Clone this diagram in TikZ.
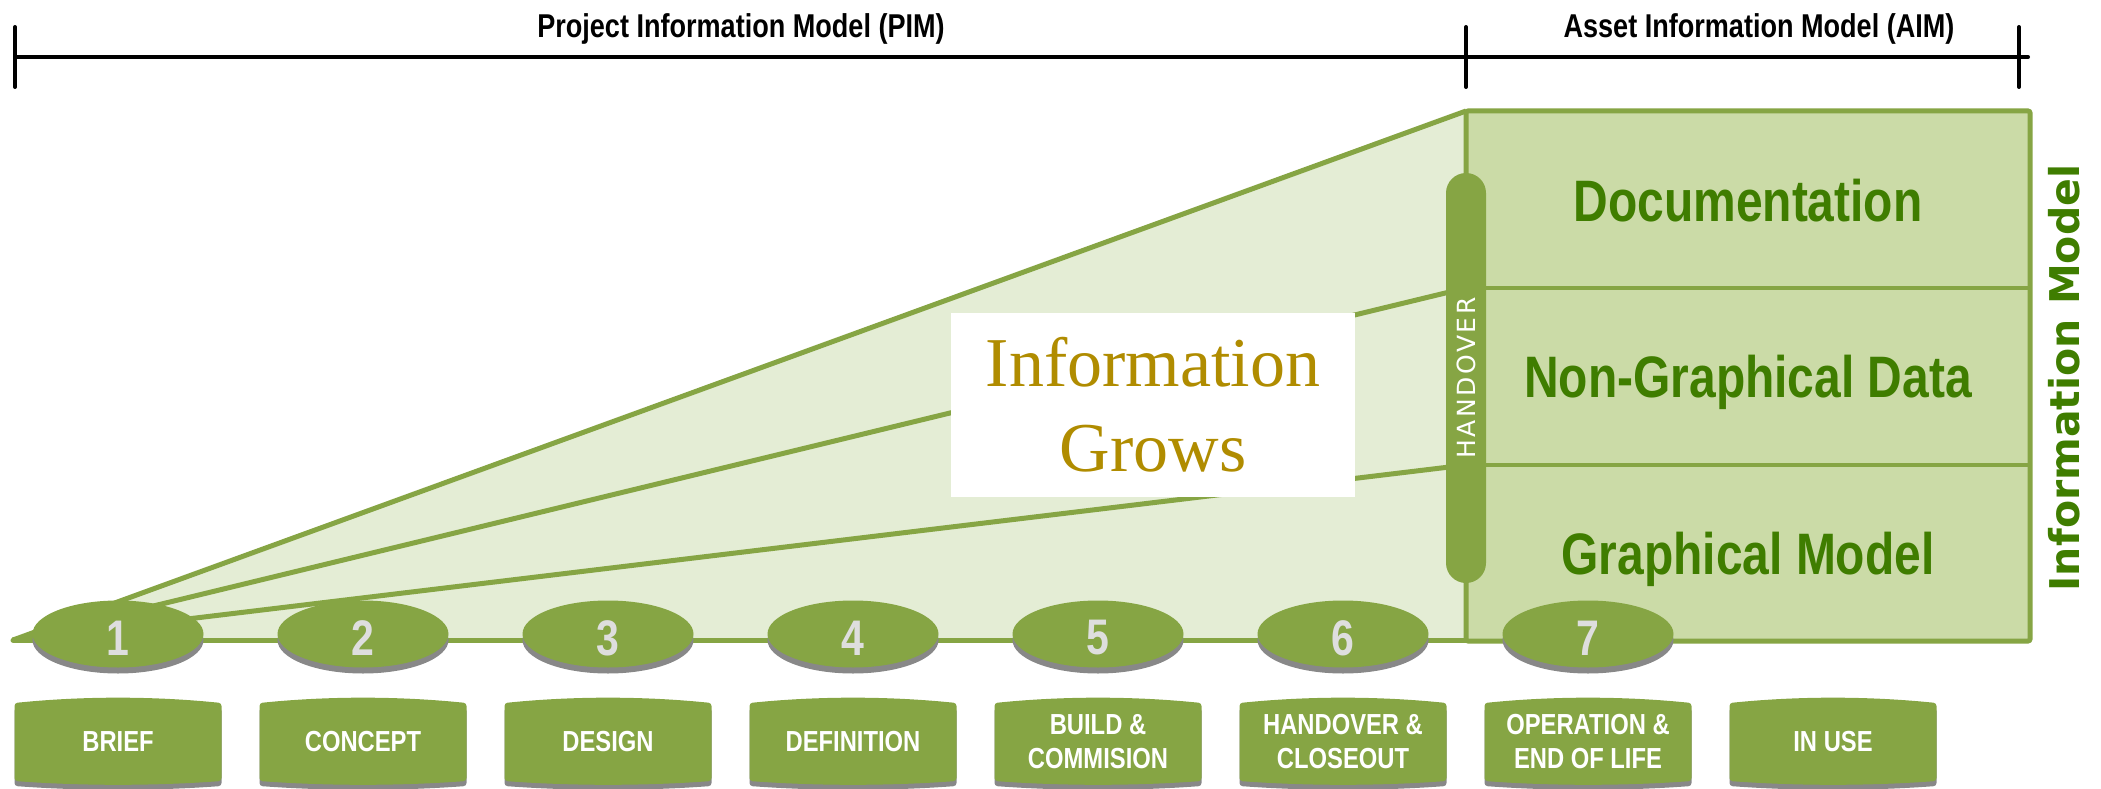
\documentclass[tikz,border=0pt]{standalone}
\usepackage{fontspec}
\setmainfont{Liberation Sans}
\newfontfamily\narrow[FakeStretch=0.82]{Liberation Sans}
\newfontfamily\growfont{Liberation Serif}
\newfontfamily\verafont{DejaVu Sans}
\newfontfamily\spacedfont[LetterSpace=10]{DejaVu Sans}
\usetikzlibrary{shapes.geometric}
\definecolor{olive}{HTML}{86A544}
\definecolor{fanfill}{HTML}{E4EDD5}
\definecolor{boxfill}{HTML}{CBDBA7}
\definecolor{dgreen}{HTML}{3F7D00}
\definecolor{gold}{HTML}{B08C00}
\definecolor{numgray}{HTML}{DEDEDE}
\definecolor{shadowgray}{HTML}{888888}
\tikzset{
 phase/.style={ellipse, fill=olive, minimum width=171pt, minimum height=67pt, inner sep=0pt},
 numtext/.style={font=\narrow\bfseries\fontsize{50pt}{51pt}\selectfont, text=numgray, inner sep=0pt},
 steplabel/.style={font=\narrow\bfseries\fontsize{29pt}{34pt}\selectfont, text=white, align=center, inner sep=0pt},
 header/.style={font=\narrow\bfseries\fontsize{33pt}{36pt}\selectfont, inner sep=0pt, anchor=base},
 section/.style={font=\narrow\bfseries\fontsize{58.5pt}{60pt}\selectfont, text=dgreen, inner sep=0pt, anchor=base},
 olivelines/.style={draw=olive, line width=5pt},
 tick/.style={line width=4pt, line cap=round},
}
\begin{document}
\begin{tikzpicture}[x=1pt,y=-1pt]
\useasboundingbox (0,0) rectangle (2101,789);
% header scale
\coordinate (hl) at (15,57); \coordinate (hr) at (2028,57);
\coordinate (t1a) at (15,27); \coordinate (t1b) at (15,87);
\coordinate (t2a) at (1466,27); \coordinate (t2b) at (1466,87);
\coordinate (t3a) at (2019,27); \coordinate (t3b) at (2019,87);
\draw[tick] (hl) -- (hr);
\draw[tick] (t1a) -- (t1b);
\draw[tick] (t2a) -- (t2b);
\draw[tick] (t3a) -- (t3b);
\node[header] (pim) at (741,38) {Project Information Model (PIM)};
\node[header] (aimlabel) at (1759,38) {Asset Information Model (AIM)};
% fan and box
\coordinate (O) at (13,640);
\coordinate (TL) at (1466,111);
\coordinate (ML) at (1466,288);
\coordinate (LL) at (1466,465);
\coordinate (BL) at (1466,640);
\coordinate (BR) at (2030,641);
\fill[fanfill] (O) -- (TL) -- (BL) -- cycle;
\draw[olivelines, fill=boxfill, rounded corners=2pt] (TL) rectangle (BR);
\draw[olive, line width=4pt] (ML) -- (ML -| BR);
\draw[olive, line width=4pt] (LL) -- (LL -| BR);
\draw[olivelines] (O) -- (TL);
\draw[olivelines] (O) -- (ML);
\draw[olivelines] (O) -- (LL);
\draw[olivelines, line cap=round] (O) -- (BL);
\node[section] (doc) at (1748,221) {Documentation};
\node[section] (ngd) at (1748,397) {Non-Graphical Data};
\node[section] (gm) at (1748,574) {Graphical Model};
\node[rotate=90, anchor=base, font=\verafont\bfseries\fontsize{41pt}{42pt}\selectfont, text=dgreen, inner sep=0pt] (im) at (2079,378) {Information Model};
% information grows
\node[fill=white, minimum width=404pt, minimum height=184pt, align=center, font=\growfont\fontsize{70pt}{85pt}\selectfont, text=gold, inner sep=0pt] (grow) at (1153,405) {Information\\Grows};
% handover pill
\node[fill=olive, rounded corners=20pt, minimum width=410pt, minimum height=40pt, rotate=90, inner sep=0pt, text=white, font=\spacedfont\fontsize{25pt}{26pt}\selectfont] (handover) at (1466,378) {HANDOVER};
% phase ellipses
\foreach \i in {1,...,7} {
  \pgfmathsetmacro{\xx}{118+(\i-1)*245}
  \fill[shadowgray] (\xx,640) ellipse (85.5 and 33.5);
  \node[phase] (e\i) at (\xx,634) {};
  \node[numtext] (n\i) at (\xx,638) {\i};
}
% stage boxes
\foreach \j/\t in {1/BRIEF, 2/CONCEPT, 3/DESIGN, 4/DEFINITION, 5/{BUILD \&\\COMMISION}, 6/{HANDOVER \&\\CLOSEOUT}, 7/{OPERATION \&\\END OF LIFE}, 8/IN USE} {
  \pgfmathsetmacro{\xx}{118+(\j-1)*245}
  \fill[shadowgray, rounded corners=3pt] (\xx-103.5,708) .. controls (\xx-35,701) and (\xx+35,701) .. (\xx+103.5,708) -- (\xx+103.5,786) .. controls (\xx+35,791) and (\xx-35,791) .. (\xx-103.5,786) -- cycle;
  \fill[olive, rounded corners=3pt] (\xx-103.5,703) .. controls (\xx-35,696) and (\xx+35,696) .. (\xx+103.5,703) -- (\xx+103.5,781) .. controls (\xx+35,786) and (\xx-35,786) .. (\xx-103.5,781) -- cycle;
  \node[steplabel] (b\j) at (\xx,742) {\t};
}
\end{tikzpicture}
\end{document}
